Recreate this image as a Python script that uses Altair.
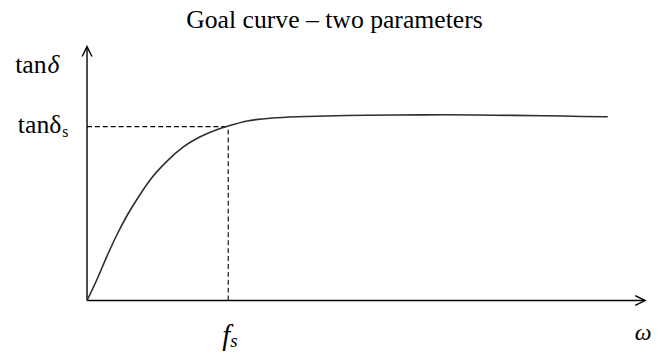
import altair as alt
import pandas as pd

# ---- data (arbitrary units, axes run 0..100) ----
omega = [0, 1.8, 3.6, 5.4, 7.1, 8.9, 11.3, 14.2, 17.2, 20.1, 23.1, 25.4, 28.7,
         34.0, 41.1, 46.4, 55.2, 64.1, 72.9, 81.8, 88.8, 93.3]
tan_delta = [0, 8.4, 17.6, 26.1, 33.2, 39.7, 47.5, 54.6, 60.4, 64.3, 67.2, 68.8, 70.7,
             72.0, 72.6, 72.9, 73.1, 73.15, 73.0, 72.8, 72.5, 72.4]
f_s = 25.3
tan_delta_s = 68.5
axis_max = 100

SERIF = "Liberation Serif"
xs = alt.Scale(domain=[0, axis_max], nice=False, zero=True)
ys = alt.Scale(domain=[0, axis_max], nice=False, zero=True)

curve_df = pd.DataFrame({"w": omega, "t": tan_delta})
axes_df = pd.DataFrame({"x": [0, 0], "y": [0, 0], "x2": [axis_max, 0], "y2": [0, axis_max]})
dash_df = pd.DataFrame({"x": [0, f_s], "y": [tan_delta_s, 0], "x2": [f_s, f_s], "y2": [tan_delta_s, tan_delta_s]})
xtip_df = pd.DataFrame({"x": [axis_max], "y": [0]})
ytip_df = pd.DataFrame({"x": [0], "y": [axis_max]})
ts_df = pd.DataFrame({"x": [0], "y": [tan_delta_s]})
fs_df = pd.DataFrame({"x": [f_s], "y": [0]})

X = lambda f: alt.X(f, type="quantitative", scale=xs, axis=None)
Y = lambda f: alt.Y(f, type="quantitative", scale=ys, axis=None)

axes = alt.Chart(axes_df).mark_rule(color="black", strokeWidth=1.4).encode(
    x=X("x"), y=Y("y"), x2="x2", y2="y2")
dashes = alt.Chart(dash_df).mark_rule(color="black", strokeWidth=1.1, strokeDash=[5, 3]).encode(
    x=X("x"), y=Y("y"), x2="x2", y2="y2")
curve = alt.Chart(curve_df).mark_line(color="#2e2e2e", strokeWidth=1.6, interpolate="monotone").encode(
    x=X("w"), y=Y("t"))

chevron = "M-2,-1L0,0L-2,1"
xtip = alt.Chart(xtip_df).mark_point(shape=chevron, size=100, filled=False, color="black",
                                      strokeWidth=1.4, opacity=1).encode(x=X("x"), y=Y("y"))
ytip = alt.Chart(ytip_df).mark_point(shape=chevron, size=100, filled=False, color="black",
                                      strokeWidth=1.4, opacity=1, angle=270).encode(x=X("x"), y=Y("y"))

def label(df, text, **kw):
    base = dict(font=SERIF, fontSize=26, color="black", baseline="alphabetic")
    base.update(kw)
    return alt.Chart(df).mark_text(text=text, **base).encode(x=X("x"), y=Y("y"))

lab_tan1 = label(ytip_df, "tan", align="right", dx=-41, dy=27)
lab_delta1 = label(ytip_df, "δ", align="left", dx=-40, dy=27, fontStyle="italic")
lab_tan2 = label(ts_df, "tanδ", align="right", dx=-26, dy=6)
lab_s2 = label(ts_df, "s", align="left", dx=-25, dy=10, fontSize=16)
lab_f = label(fs_df, "f", align="right", dx=2, dy=45, fontStyle="italic", fontSize=29)
lab_fs = label(fs_df, "s", align="left", dx=2, dy=47, fontStyle="italic", fontSize=19)
lab_w = label(xtip_df, "ω", align="center", dx=-2, dy=40, fontStyle="italic", fontSize=24)

chart = alt.layer(
    axes, dashes, curve, xtip, ytip,
    lab_tan1, lab_delta1, lab_tan2, lab_s2, lab_f, lab_fs, lab_w,
).properties(
    width=565, height=257,
    title=alt.TitleParams("Goal curve – two parameters", font=SERIF, fontSize=26,
                          fontWeight="normal", color="black", anchor="middle",
                          frame="group", dx=-32, offset=19, baseline="alphabetic", dy=29),
    autosize=alt.AutoSizeParams(type="none"),
    padding={"left": 80, "top": 37, "right": 11, "bottom": 52},
    background="white",
).configure_view(stroke=None)

chart.save("out.html", embed_options={"renderer": "svg", "actions": False})
